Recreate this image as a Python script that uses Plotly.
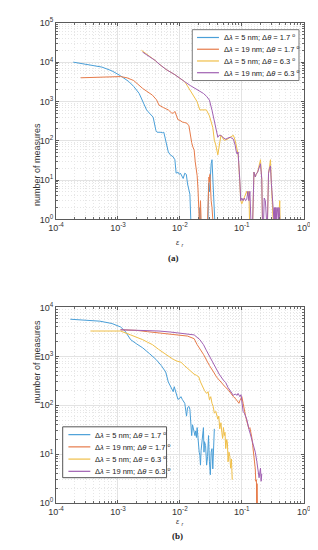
import plotly.graph_objects as go

# ---------------- data ----------------
series_names = [
    "Δ<i>λ</i> = 5 nm; Δ<i>θ</i> = 1.7 <sup>o</sup>",
    "Δ<i>λ</i> = 19 nm; Δ<i>θ</i> = 1.7 <sup>o</sup>",
    "Δ<i>λ</i> = 5 nm; Δ<i>θ</i> = 6.3 <sup>o</sup>",
    "Δ<i>λ</i> = 19 nm; Δ<i>θ</i> = 6.3 <sup>o</sup>",
]
x_tickvals = [1e-4, 1e-3, 1e-2, 1e-1, 1]
x_ticktext = ["10<sup>-4</sup>", "10<sup>-3</sup>", "10<sup>-2</sup>", "10<sup>-1</sup>", "10<sup>0</sup>"]
ya_tickvals = [1, 10, 100, 1e3, 1e4, 1e5]
ya_ticktext = ["10<sup>0</sup>", "10<sup>1</sup>", "10<sup>2</sup>", "10<sup>3</sup>", "10<sup>4</sup>", "10<sup>5</sup>"]
yb_tickvals = [1, 10, 100, 1e3, 1e4]
yb_ticktext = ["10<sup>0</sup>", "10<sup>1</sup>", "10<sup>2</sup>", "10<sup>3</sup>", "10<sup>4</sup>"]

# (a) blue
a_blue_x = [1.9e-4, 3e-4, 5.5e-4, 8e-4, 1.1e-3, 1.5e-3, 1.8e-3, 2.2e-3, 2.5e-3, 2.9e-3, 3.2e-3,
            3.7e-3, 4.1e-3, 4.3e-3, 4.8e-3, 5.2e-3, 5.5e-3, 5.9e-3, 6.5e-3, 7.0e-3, 7.8e-3, 8.3e-3,
            8.7e-3, 9.3e-3, 9.8e-3, 1.02e-2, 1.08e-2, 1.13e-2, 1.2e-2, 1.27e-2, 1.33e-2, 1.4e-2, 1.45e-2,
            1.5e-2, None, 2.05e-2, 2.1e-2, 2.15e-2, None, 2.85e-2, 2.9e-2, 3.0e-2, 3.1e-2, 3.2e-2,
            3.3e-2, 3.4e-2, 3.5e-2, 3.6e-2, 3.65e-2]
a_blue_y = [10000, 9000, 7500, 6000, 4500, 3200, 2400, 1600, 1000, 610, 510,
            400, 183, 165, 165, 160, 165, 103, 52, 44, 39, 33,
            15, 16, 14, 15, 12, 11, 15, 14, 8, 5, 4.4,
            1, None, 1, 2, 1, None, 1, 8.3, 5, 15, 26,
            33, 11, 5, 2, 1]

# (a) red
a_red_x = [2.5e-4, 4e-4, 7e-4, 1.1e-3, 1.4e-3, 1.8e-3, 2.5e-3, 3.0e-3, 3.6e-3, 4.2e-3, 4.6e-3,
           5.5e-3, 6.5e-3, 7.3e-3, 7.8e-3, 8.3e-3, 8.8e-3, 9.3e-3, 1.0e-2, 1.1e-2, 1.2e-2, 1.3e-2,
           1.4e-2, 1.47e-2, 1.55e-2, 1.62e-2, 1.7e-2, 1.77e-2, 1.83e-2, 1.9e-2, 1.96e-2, 2.0e-2,
           2.05e-2, None, 2.1e-2, 2.15e-2, 2.2e-2, None, 2.8e-2, 2.9e-2, 2.95e-2, 3.0e-2, 3.05e-2,
           3.1e-2, 3.2e-2, 3.3e-2, 3.4e-2]
a_red_y = [4000, 4100, 4200, 4300, 4000, 3400, 2150, 1750, 1450, 1100, 810,
           690, 610, 515, 500, 560, 420, 345, 330, 300, 290, 280,
           240, 138, 90, 70, 58, 29, 20, 13, 6, 2,
           1, None, 1, 3, 1, None, 1, 6.2, 12, 9, 14,
           5, 3, 2, 1]

# (a) yellow
a_yellow_x = [2.4e-3, 3e-3, 4e-3, 4.6e-3, 6e-3, 8.3e-3, 1.0e-2, 1.19e-2, 1.3e-2, 1.47e-2, 1.7e-2,
              1.89e-2, 2.1e-2, 2.3e-2, 2.68e-2, 3.0e-2, 3.4e-2, 3.6e-2, 3.8e-2, 4.1e-2, 4.3e-2,
              4.6e-2, 5.2e-2, 5.9e-2, 6.5e-2, 7.3e-2, 7.8e-2, 8.4e-2, 8.7e-2, 9.0e-2, 9.3e-2, 9.6e-2,
              0.1, 0.105, 0.11, 0.115, 0.12, 0.125, 0.13, 0.133, None, 0.15, 0.157, 0.165, 0.17,
              0.18, 0.19, 0.2, 0.21, 0.215, None, 0.26, 0.27, 0.28, 0.29, 0.3, 0.31, 0.32, None,
              0.39, 0.4, 0.41, 0.415]
a_yellow_y = [20000, 15500, 11000, 9000, 6500, 4800, 3800, 3200, 2600, 1900, 1300,
              1000, 610, 600, 610, 430, 217, 103, 78, 44, 78,
              138, 103, 110, 123, 138, 103, 52, 46, 20, 9.4, 3,
              2.5, 3, 3.5, 4.5, 5.2, 4, 5.2, 1, None, 1, 16, 12, 14,
              16, 22, 33, 10.5, 1, None, 1, 15, 22, 33, 8.3, 3, 1, None,
              1, 3, 3, 1]

# (a) purple
a_purple_x = [2.5e-3, 3e-3, 4e-3, 4.6e-3, 6e-3, 8.3e-3, 1.0e-2, 1.19e-2, 1.47e-2, 1.8e-2, 2.4e-2,
              2.7e-2, 3.0e-2, 3.3e-2, 3.6e-2, 3.9e-2, 4.1e-2, 4.3e-2, 4.6e-2, 5.0e-2, 5.5e-2,
              6.0e-2, 6.5e-2, 7.3e-2, 7.8e-2, 8.1e-2, 8.4e-2, 8.7e-2, 9.0e-2, 9.3e-2, 9.6e-2, 0.1,
              0.105, 0.11, 0.115, 0.12, 0.125, 0.13, 0.135, 0.14, None, 0.15, 0.157, 0.165, 0.17,
              0.18, 0.19, 0.2, 0.21, 0.215, None, 0.225, 0.23, 0.24, 0.25, None, 0.26, 0.27, 0.28,
              0.29, 0.3, 0.31, 0.32, 0.33, 0.335, 0.34, 0.345, 0.35, 0.355, 0.36, 0.365, 0.37, 0.375,
              0.38, 0.385, 0.39, 0.4, 0.41]
a_purple_y = [18000, 15000, 11000, 9000, 6500, 4800, 3800, 3200, 2550, 2100, 1600,
              1350, 1080, 600, 290, 170, 123, 138, 138, 120, 110,
              118, 123, 110, 78, 55, 46, 52, 25, 9.4, 3, 3.5,
              3, 3.5, 3, 3.2, 5.2, 3, 5.2, 1, None, 1, 16, 12, 14,
              16, 20, 26, 10.5, 1, None, 1, 3.5, 3, 1, None, 1, 15, 20,
              23, 8.3, 3, 2, 1, 2, 1, 2, 1, 2, 2, 1, 2, 1,
              2, 2, 1, 2, 1]

# (b) blue
b_blue_x = [1.7e-4, 3e-4, 5.1e-4, 8e-4, 1.1e-3, 1.3e-3, 1.6e-3, 2.0e-3, 2.5e-3, 3.2e-3, 4.1e-3,
            5.0e-3, 5.9e-3, 6.5e-3, 7.0e-3, 7.3e-3, 7.8e-3, 8.1e-3, 8.7e-3, 9.3e-3, 1.0e-2, 1.04e-2,
            1.1e-2, 1.2e-2, 1.25e-2, 1.28e-2, 1.33e-2, 1.4e-2, 1.45e-2, 1.5e-2, 1.55e-2, 1.6e-2,
            1.65e-2, 1.7e-2, 1.75e-2, 1.8e-2, 1.85e-2, 1.9e-2, 1.95e-2, 2.0e-2, 2.05e-2, 2.1e-2,
            2.15e-2, 2.2e-2, 2.3e-2, 2.4e-2, 2.45e-2, 2.5e-2, 2.6e-2, 2.7e-2, 2.8e-2, 2.9e-2, 3.0e-2,
            3.1e-2, 3.2e-2, 3.3e-2, 3.4e-2, 3.5e-2, 3.6e-2]
b_blue_y = [5750, 5500, 5250, 4700, 4000, 3300, 2200, 1800, 1500, 1150, 870,
            650, 480, 300, 250, 210, 190, 240, 175, 132, 140, 150,
            130, 110, 75, 60, 90, 95, 83, 45, 24, 40,
            33, 28, 24, 30, 22, 35, 20, 15, 11, 9.5,
            6, 12, 20, 35, 11, 18, 15, 6, 9, 24, 7,
            3.8, 11, 13, 5, 20, 33]

# (b) red
b_red_x = [1.1e-3, 2e-3, 3e-3, 4.6e-3, 7e-3, 1.0e-2, 1.33e-2, 1.7e-2, 1.9e-2, 2.4e-2, 2.7e-2, 3.0e-2,
           3.5e-2, 3.9e-2, 4.3e-2, 5.0e-2, 5.5e-2, 6.0e-2, 6.5e-2, 7.0e-2, 7.3e-2, 7.8e-2, 8.1e-2,
           8.7e-2, 9.0e-2, 9.3e-2, 9.7e-2, 0.1, 0.105, 0.11, 0.115, 0.12, 0.125, 0.13, 0.135, 0.14,
           0.145, 0.15, 0.155, 0.16, 0.165, 0.168, 0.17, 0.172, 0.174, 0.176, 0.178]
b_red_y = [3500, 3400, 3200, 3000, 2850, 2700, 2600, 2300, 1740, 1100, 800, 650,
           480, 380, 330, 260, 230, 210, 180, 165, 150, 140, 130,
           115, 110, 125, 140, 150, 110, 75, 60, 48, 40, 33, 35, 28,
           22, 15, 10, 8.3, 5, 2.8, 1.1, 3, 1, 2.5, 1]

# (b) yellow
b_yellow_x = [3.6e-4, 5e-4, 7e-4, 1.1e-3, 1.6e-3, 2.0e-3, 2.5e-3, 3.0e-3, 3.6e-3, 4.5e-3, 5.9e-3,
              7e-3, 7.8e-3, 9e-3, 1.04e-2, 1.2e-2, 1.41e-2, 1.55e-2, 1.69e-2, 1.85e-2, 2.02e-2,
              2.15e-2, 2.3e-2, 2.5e-2, 2.7e-2, 2.85e-2, 3.0e-2, 3.15e-2, 3.3e-2, 3.45e-2, 3.6e-2,
              3.8e-2, 4.1e-2, 4.25e-2, 4.4e-2, 4.6e-2, 4.75e-2, 4.9e-2, 5.05e-2, 5.2e-2, 5.35e-2,
              5.5e-2, 5.7e-2, 5.85e-2, 6.0e-2, 6.2e-2, 6.4e-2, 6.6e-2, 6.8e-2, 7.0e-2]
b_yellow_y = [3300, 3300, 3300, 3300, 2750, 2500, 2200, 1950, 1740, 1400, 1100,
              950, 870, 800, 760, 640, 525, 480, 435, 410, 380,
              300, 240, 200, 175, 190, 130, 150, 110, 95, 69,
              75, 52, 60, 33, 44, 28, 21, 35, 24, 28,
              13, 20, 17, 7, 11, 9, 5.2, 8, 3]

# (b) purple
b_purple_x = [1.1e-3, 2e-3, 3e-3, 4.6e-3, 7e-3, 1.0e-2, 1.33e-2, 1.7e-2, 2.1e-2, 2.4e-2, 2.7e-2,
              3.0e-2, 3.4e-2, 3.9e-2, 4.3e-2, 5.0e-2, 5.5e-2, 6.0e-2, 6.5e-2, 7.3e-2, 7.8e-2,
              8.4e-2, 8.7e-2, 9.3e-2, 9.7e-2, 0.1, 0.105, 0.11, 0.12, 0.13, 0.14, 0.15, 0.157,
              0.165, 0.175, 0.185, 0.19, 0.2, 0.205, 0.21]
b_purple_y = [3500, 3450, 3400, 3300, 3150, 3000, 2900, 2750, 2200, 1740, 1300,
              1000, 760, 560, 435, 330, 290, 230, 200, 160, 170,
              160, 175, 150, 165, 120, 75, 69, 52, 33, 24, 18, 15,
              11, 7, 4, 3.3, 5.2, 2.8, 4]

colors = ["#4A9FD8", "#E67B4A", "#F0BF48", "#A060B2"]

# ---------------- figure ----------------
W, H = 318, 550
def px_x(p):
    return p / W
def px_y(p):
    return 1 - p / H

fig = go.Figure()
panel_a = [(a_blue_x, a_blue_y), (a_red_x, a_red_y), (a_yellow_x, a_yellow_y), (a_purple_x, a_purple_y)]
panel_b = [(b_blue_x, b_blue_y), (b_red_x, b_red_y), (b_yellow_x, b_yellow_y), (b_purple_x, b_purple_y)]
for i, (xs, ys) in enumerate(panel_a):
    fig.add_trace(go.Scatter(x=xs, y=ys, mode="lines", name=series_names[i],
                             line=dict(color=colors[i], width=1), showlegend=False,
                             xaxis="x", yaxis="y"))
for i, (xs, ys) in enumerate(panel_b):
    fig.add_trace(go.Scatter(x=xs, y=ys, mode="lines", name=series_names[i],
                             line=dict(color=colors[i], width=1), showlegend=False,
                             xaxis="x2", yaxis="y2"))

font_family = "Liberation Sans, Arial, sans-serif"
axis_common = dict(
    type="log", showline=True, linecolor="#5a5a5a", linewidth=1, mirror="allticks",
    ticks="inside", ticklen=3, tickcolor="#5a5a5a", tickwidth=1,
    showgrid=True, gridcolor="#e3e3e3", gridwidth=1, zeroline=False,
    tickfont=dict(family=font_family, size=9, color="#333333"),
    minor=dict(dtick="D1", ticks="inside", ticklen=2, tickcolor="#6a6a6a",
               showgrid=True, gridcolor="#e6e6e6", griddash="1px,2px", gridwidth=1),
)

fig.update_layout(
    width=W, height=H, margin=dict(l=0, r=0, t=0, b=0),
    paper_bgcolor="white", plot_bgcolor="white", showlegend=False,
    xaxis=dict(axis_common, domain=[px_x(42), px_x(302)], anchor="y", range=[-4, 0],
               tickvals=x_tickvals, ticktext=x_ticktext),
    yaxis=dict(axis_common, domain=[px_y(209), px_y(8)], anchor="x", range=[0, 5],
               tickvals=ya_tickvals, ticktext=ya_ticktext),
    xaxis2=dict(axis_common, domain=[px_x(42), px_x(302)], anchor="y2", range=[-4, 0],
                tickvals=x_tickvals, ticktext=x_ticktext),
    yaxis2=dict(axis_common, domain=[px_y(499), px_y(299)], anchor="x2", range=[0, 4],
                tickvals=yb_tickvals, ticktext=yb_ticktext),
)

ann = []
shapes = []
# axis labels
for yc in [(8 + 209) / 2, (299 + 499) / 2]:
    ann.append(dict(x=px_x(14), y=px_y(yc), xref="paper", yref="paper", text="number of measures",
                    textangle=-90, showarrow=False, font=dict(family=font_family, size=9, color="#333333")))
for yc in [233, 525]:
    ann.append(dict(x=px_x(172), y=px_y(yc), xref="paper", yref="paper", text="<i>ε</i> <sub><i>r</i></sub>",
                    showarrow=False, font=dict(family=font_family, size=7.5, color="#333333")))
ann.append(dict(x=px_x(165), y=px_y(248), xref="paper", yref="paper", text="<b>(a)</b>", showarrow=False,
                font=dict(family="Liberation Serif, Times New Roman, serif", size=9, color="#222222")))
ann.append(dict(x=px_x(170), y=px_y(540), xref="paper", yref="paper", text="<b>(b)</b>", showarrow=False,
                font=dict(family="Liberation Serif, Times New Roman, serif", size=9, color="#222222")))

# legends (drawn manually to match compact spacing)
legend_specs = [
    dict(box=(185, 15, 297, 67), line=(190, 213), text_x=216, rows=[23, 35, 47, 59], border="#7a7a7a"),
    dict(box=(49, 421, 158, 473), line=(55, 78), text_x=81, rows=[429, 441.5, 454, 466.5], border="#555555"),
]
for spec in legend_specs:
    x0, y0, x1, y1 = spec["box"]
    shapes.append(dict(type="rect", xref="paper", yref="paper", x0=px_x(x0), x1=px_x(x1),
                       y0=px_y(y1), y1=px_y(y0), line=dict(color=spec["border"], width=1),
                       fillcolor="white", layer="above"))
    for i, ry in enumerate(spec["rows"]):
        shapes.append(dict(type="line", xref="paper", yref="paper", x0=px_x(spec["line"][0]),
                           x1=px_x(spec["line"][1]), y0=px_y(ry), y1=px_y(ry),
                           line=dict(color=colors[i], width=1.2), layer="above"))
        ann.append(dict(x=px_x(spec["text_x"]), y=px_y(ry), xref="paper", yref="paper",
                        text=series_names[i], showarrow=False, xanchor="left", yanchor="middle",
                        font=dict(family=font_family, size=7.5, color="#222222")))

fig.update_layout(annotations=ann, shapes=shapes)
fig.write_html("out.html")
